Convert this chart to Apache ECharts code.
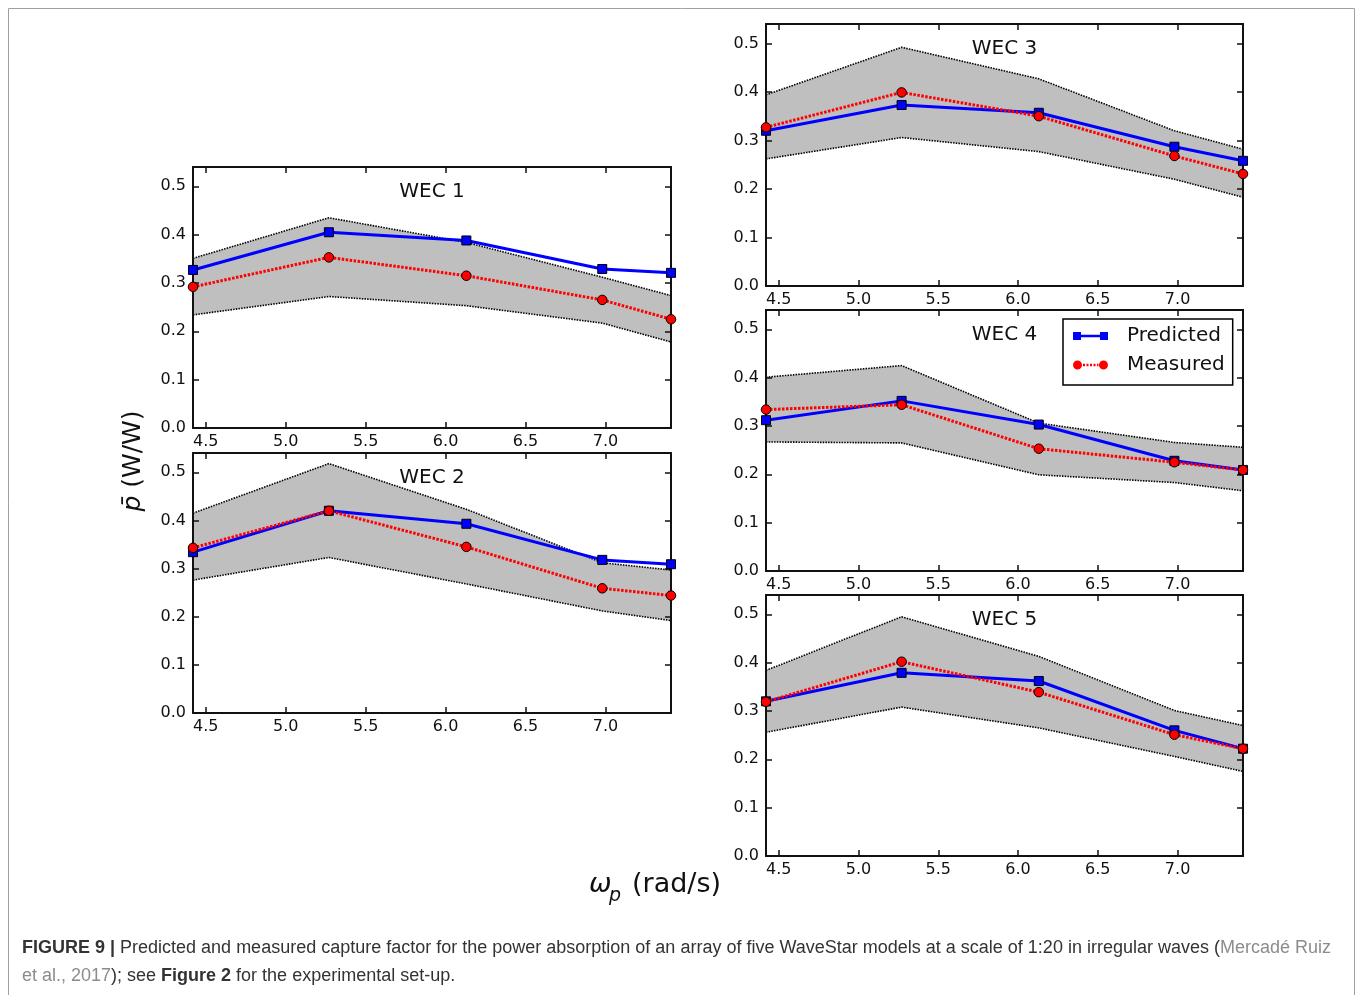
<!DOCTYPE html>
<html>
<head>
<meta charset="utf-8">
<title>Figure 9</title>
<script src="https://cdn.jsdelivr.net/npm/echarts@6/dist/echarts.min.js"></script>
<style>
    html, body { margin: 0; padding: 0; background: #fff; }
    #myChart { width: 1363px; height: 995px; }
</style>
</head>
<body>
<div id="myChart"></div>
<script>
// Data
var omega = [4.42, 5.27, 6.13, 6.98, 7.41];
var xTicks = [4.5, 5.0, 5.5, 6.0, 6.5, 7.0];
var yTicks = [0.0, 0.1, 0.2, 0.3, 0.4, 0.5];
var yMax = 0.54;

var wec1Predicted = [0.327, 0.405, 0.388, 0.329, 0.321];
var wec1Measured = [0.292, 0.353, 0.315, 0.265, 0.225];
var wec1Upper = [0.351, 0.435, 0.384, 0.312, 0.274];
var wec1Lower = [0.234, 0.272, 0.253, 0.217, 0.178];

var wec2Predicted = [0.334, 0.420, 0.393, 0.318, 0.309];
var wec2Measured = [0.343, 0.420, 0.345, 0.259, 0.244];
var wec2Upper = [0.415, 0.518, 0.423, 0.312, 0.297];
var wec2Lower = [0.276, 0.323, 0.268, 0.212, 0.192];

var wec3Predicted = [0.320, 0.373, 0.357, 0.287, 0.258];
var wec3Measured = [0.327, 0.399, 0.350, 0.268, 0.231];
var wec3Upper = [0.394, 0.492, 0.427, 0.320, 0.282];
var wec3Lower = [0.262, 0.306, 0.277, 0.220, 0.183];

var wec4Predicted = [0.312, 0.352, 0.303, 0.228, 0.209];
var wec4Measured = [0.334, 0.344, 0.253, 0.225, 0.209];
var wec4Upper = [0.401, 0.425, 0.306, 0.266, 0.256];
var wec4Lower = [0.267, 0.265, 0.199, 0.183, 0.166];

var wec5Predicted = [0.320, 0.379, 0.362, 0.260, 0.222];
var wec5Measured = [0.319, 0.402, 0.339, 0.251, 0.222];
var wec5Upper = [0.384, 0.495, 0.413, 0.301, 0.270];
var wec5Lower = [0.256, 0.308, 0.265, 0.206, 0.175];

var panels = [
    { name: 'WEC 1', predicted: wec1Predicted, measured: wec1Measured, upper: wec1Upper, lower: wec1Lower },
    { name: 'WEC 2', predicted: wec2Predicted, measured: wec2Measured, upper: wec2Upper, lower: wec2Lower },
    { name: 'WEC 3', predicted: wec3Predicted, measured: wec3Measured, upper: wec3Upper, lower: wec3Lower },
    { name: 'WEC 4', predicted: wec4Predicted, measured: wec4Measured, upper: wec4Upper, lower: wec4Lower },
    { name: 'WEC 5', predicted: wec5Predicted, measured: wec5Measured, upper: wec5Upper, lower: wec5Lower }
];

// Layout of the panels (pixels)
var layout = [
    { left: 193, top: 167, width: 478, height: 261 },
    { left: 193, top: 453, width: 478, height: 260 },
    { left: 766, top: 24, width: 477, height: 262 },
    { left: 766, top: 310, width: 477, height: 261 },
    { left: 766, top: 595, width: 477, height: 261 }
];

// Legend glyphs: marker - line - marker, like the matplotlib legend
var predictedIcon = 'path://M0,0.5H8V8.5H0ZM27,0.5H35V8.5H27ZM8,3.3H27V5.7H8Z';
var measuredIcon = 'path://M0,4.5a4.5,4.5 0 1,0 9,0a4.5,4.5 0 1,0 -9,0Z' +
    'M26,4.5a4.5,4.5 0 1,0 9,0a4.5,4.5 0 1,0 -9,0Z' +
    'M10,3.3h2v2.4h-2ZM13.5,3.3h2v2.4h-2ZM17,3.3h2v2.4h-2ZM20.5,3.3h2v2.4h-2ZM24,3.3h1.5v2.4h-1.5Z';

window.onload = init;

function init() {
    var chart = echarts.init(document.getElementById('myChart'));
    var font = 'DejaVu Sans';
    var frameColor = '#111';

    function pairs(ys) {
        return omega.map(function(x, i) { return [x, ys[i]]; });
    }

    function fmt(v) { return v.toFixed(1); }

    var grids = [], xAxes = [], yAxes = [], series = [], graphics = [];

    panels.forEach(function(p, i) {
        var box = layout[i];
        grids.push({ left: box.left, top: box.top, width: box.width, height: box.height, show: false });

        // Axes: bottom/left carry the labels, top/right only mirror the ticks
        ['bottom', 'top'].forEach(function(pos) {
            xAxes.push({
                gridIndex: i, type: 'value', position: pos,
                min: omega[0], max: omega[omega.length - 1],
                z: 3,
                axisLine: { show: true, onZero: false, lineStyle: { color: frameColor, width: 2 } },
                axisTick: { show: true, inside: true, length: 6, customValues: xTicks, lineStyle: { color: frameColor, width: 1.5 } },
                axisLabel: { show: pos === 'bottom', customValues: xTicks, formatter: fmt, margin: 6, fontSize: 16, fontFamily: font, color: '#111' },
                splitLine: { show: false }
            });
        });
        ['left', 'right'].forEach(function(pos) {
            yAxes.push({
                gridIndex: i, type: 'value', position: pos,
                min: 0, max: yMax,
                z: 3,
                axisLine: { show: true, onZero: false, lineStyle: { color: frameColor, width: 2 } },
                axisTick: { show: true, inside: true, length: 6, customValues: yTicks, lineStyle: { color: frameColor, width: 1.5 } },
                axisLabel: { show: pos === 'left', customValues: yTicks, formatter: fmt, margin: 7, fontSize: 16, fontFamily: font, color: '#111' },
                splitLine: { show: false }
            });
        });

        var ax = 2 * i;
        var bandLine = { color: '#000', width: 1.6, type: [1.5, 1.2] };

        // Uncertainty band: grey area under the upper edge, masked in white under the lower edge
        series.push({
            name: 'upper' + i, type: 'line', xAxisIndex: ax, yAxisIndex: ax,
            data: pairs(p.upper), symbol: 'none', clip: false,
            lineStyle: bandLine, areaStyle: { color: '#bfbfbf', opacity: 1, origin: 'start' },
            z: 1, silent: true
        });
        series.push({
            name: 'lower' + i, type: 'line', xAxisIndex: ax, yAxisIndex: ax,
            data: pairs(p.lower), symbol: 'none', clip: false,
            lineStyle: bandLine, areaStyle: { color: '#ffffff', opacity: 1, origin: 'start' },
            z: 2, silent: true
        });

        // Predicted
        series.push({
            name: 'Predicted', type: 'line', xAxisIndex: ax, yAxisIndex: ax,
            data: pairs(p.predicted), symbol: 'rect', symbolSize: 9, clip: false,
            lineStyle: { color: '#0000ff', width: 3 },
            itemStyle: { color: '#0000ff', borderColor: '#000', borderWidth: 1 },
            z: 4
        });

        // Measured
        series.push({
            name: 'Measured', type: 'line', xAxisIndex: ax, yAxisIndex: ax,
            data: pairs(p.measured), symbol: 'circle', symbolSize: 9.5, clip: false,
            lineStyle: { color: '#ff0000', width: 3, type: [2.5, 1.5] },
            itemStyle: { color: '#ff0000', borderColor: '#000', borderWidth: 1 },
            z: 5
        });

        // Panel title
        graphics.push({
            type: 'text', z: 10,
            style: {
                text: p.name, x: box.left + box.width / 2, y: box.top + 25,
                fontSize: 20, fontFamily: font, fill: '#111',
                textAlign: 'center', align: 'center', textVerticalAlign: 'middle', verticalAlign: 'middle'
            }
        });
    });

    // Axis titles
    graphics.push({
        type: 'text', z: 10, x: 133, y: 461, rotation: Math.PI / 2,
        style: {
            text: '{i|p\u0304} (W/W)', x: 0, y: 0,
            fontSize: 25, fontFamily: font, fill: '#111',
            textAlign: 'center', align: 'center', textVerticalAlign: 'middle', verticalAlign: 'middle',
            rich: { i: { fontSize: 25, fontFamily: font, fontStyle: 'italic', fill: '#111' } }
        }
    });
    graphics.push({
        type: 'text', z: 10,
        style: { text: '\u03c9', x: 589, y: 885, fontSize: 27, fontFamily: font, fontStyle: 'italic', fill: '#111',
            textAlign: 'left', align: 'left', textVerticalAlign: 'middle', verticalAlign: 'middle' }
    });
    graphics.push({
        type: 'text', z: 10,
        style: { text: 'p', x: 609, y: 896, fontSize: 19, fontFamily: font, fontStyle: 'italic', fill: '#111',
            textAlign: 'left', align: 'left', textVerticalAlign: 'middle', verticalAlign: 'middle' }
    });
    graphics.push({
        type: 'text', z: 10,
        style: { text: '(rad/s)', x: 632, y: 885, fontSize: 27, fontFamily: font, fill: '#111',
            textAlign: 'left', align: 'left', textVerticalAlign: 'middle', verticalAlign: 'middle' }
    });

    // Caption
    var capFont = 'Liberation Sans';
    var capSize = 18;
    var capRich = {
        b: { fontSize: capSize, fontFamily: capFont, fontWeight: 'bold', fill: '#333' },
        n: { fontSize: capSize, fontFamily: capFont, fill: '#333' },
        l: { fontSize: capSize, fontFamily: capFont, fill: '#8c8c8c' }
    };
    graphics.push({
        type: 'text', z: 10,
        style: {
            text: '{b|FIGURE 9 |}{n| Predicted and measured capture factor for the power absorption of an array of five WaveStar models at a scale of 1:20 in irregular waves (}{l|Mercadé Ruiz}',
            x: 22, y: 948, fontSize: capSize, fontFamily: capFont, fill: '#333', rich: capRich,
            textAlign: 'left', align: 'left', textVerticalAlign: 'middle', verticalAlign: 'middle'
        }
    });
    graphics.push({
        type: 'text', z: 10,
        style: {
            text: '{l|et al., 2017}{n|); see }{b|Figure 2}{n| for the experimental set-up.}',
            x: 22, y: 976, fontSize: capSize, fontFamily: capFont, fill: '#333', rich: capRich,
            textAlign: 'left', align: 'left', textVerticalAlign: 'middle', verticalAlign: 'middle'
        }
    });

    // Outer frame
    graphics.push({
        type: 'rect', z: 0,
        shape: { x: 8.5, y: 8.5, width: 1346, height: 1000 },
        style: { fill: 'none', stroke: '#a0a0a0', lineWidth: 1 }
    });

    var option = {
        animation: false,
        backgroundColor: '#fff',
        grid: grids,
        xAxis: xAxes,
        yAxis: yAxes,
        legend: {
            data: [
                { name: 'Predicted', icon: predictedIcon },
                { name: 'Measured', icon: measuredIcon }
            ],
            orient: 'vertical',
            left: 1063, top: 319,
            padding: [5, 8, 8, 10],
            itemGap: 5,
            itemWidth: 35, itemHeight: 9,
            itemStyle: { borderWidth: 0 },
            backgroundColor: '#fff',
            borderColor: '#000', borderWidth: 1.5,
            textStyle: { fontSize: 20, fontFamily: font, color: '#111', lineHeight: 24, padding: [0, 0, 0, 14] },
            z: 10
        },
        graphic: { elements: graphics },
        series: series
    };

    chart.setOption(option);
}
</script>
</body>
</html>
